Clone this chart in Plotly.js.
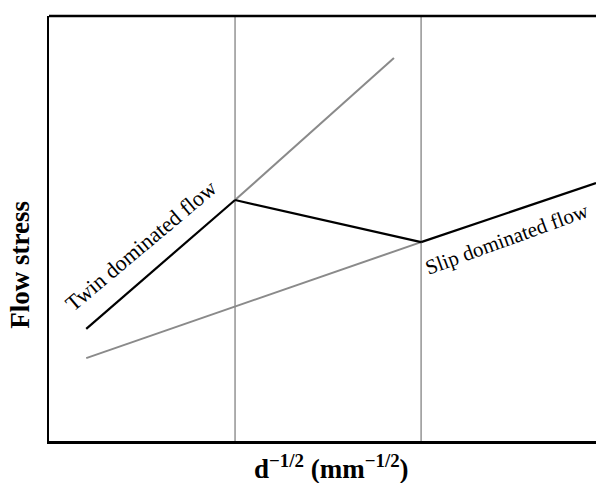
<!DOCTYPE html>
<html>
<head>
<meta charset="utf-8">
<script src="https://cdn.plot.ly/plotly-3.0.1.min.js"></script>
<style>html,body{margin:0;padding:0;background:#fff;}#chart{width:596px;height:483px;}</style>
</head>
<body>
<div id="chart"></div>
<script>
// Schematic data (arbitrary units): x = d^-1/2, y = flow stress
const twinX = [1, 5];
const twinY = [2.64, 5.67];
const transitionX = [5, 10];
const transitionY = [5.67, 4.68];
const slipX = [10, 14.7];
const slipY = [4.68, 6.07];
const slipExtX = [1, 10];
const slipExtY = [1.95, 4.68];
const twinExtX = [5, 9.27];
const twinExtY = [5.67, 9.01];
const boundaryX = [5, 10];
const labels = ['Twin dominated flow', 'Slip dominated flow'];
const xTitle = '<b>d<sup>−1/2</sup> (mm<sup>−1/2</sup>)</b>';
const yTitle = '<b>Flow stress</b>';

const black = '#000000';
const gray = '#8a8a8a';
const serif = 'Liberation Serif, Times New Roman, serif';

const traces = [
  {x: slipExtX, y: slipExtY, mode: 'lines', line: {color: gray, width: 2}, name: 'Slip extrapolated'},
  {x: twinExtX, y: twinExtY, mode: 'lines', line: {color: gray, width: 2}, name: 'Twin extrapolated'},
  {x: twinX, y: twinY, mode: 'lines', line: {color: black, width: 2.2}, name: 'Twin'},
  {x: transitionX, y: transitionY, mode: 'lines', line: {color: black, width: 2.2}, name: 'Transition'},
  {x: slipX, y: slipY, mode: 'lines', line: {color: black, width: 2.2}, name: 'Slip'}
];

const shapes = boundaryX.map(v => ({
  type: 'line', xref: 'x', yref: 'paper', x0: v, x1: v, y0: 0, y1: 1,
  line: {color: '#9a9a9a', width: 1.6}, layer: 'below'
}));
shapes.push({type: 'line', xref: 'paper', yref: 'paper', x0: 0, x1: 1.01, y0: 1, y1: 1,
  line: {color: black, width: 2.5}});

const layout = {
  width: 596, height: 483,
  margin: {l: 49, r: 0, t: 16, b: 42},
  paper_bgcolor: '#ffffff', plot_bgcolor: '#ffffff',
  showlegend: false,
  xaxis: {range: [0, 14.7], showline: true, linecolor: black, linewidth: 2.5,
    showgrid: false, zeroline: false, showticklabels: false, ticks: ''},
  yaxis: {range: [0, 10], showline: true, linecolor: black, linewidth: 2.5,
    showgrid: false, zeroline: false, showticklabels: false, ticks: ''},
  shapes: shapes,
  annotations: [
    {x: 2.47, y: 4.61, xref: 'x', yref: 'y', text: labels[0], showarrow: false,
      xanchor: 'center', yanchor: 'middle',
      textangle: -40, font: {family: serif, size: 22, color: black}},
    {x: 12.3, y: 4.75, xref: 'x', yref: 'y', text: labels[1], showarrow: false,
      xanchor: 'center', yanchor: 'middle',
      textangle: -20, font: {family: serif, size: 21, color: black}},
    {x: 0.517, y: -0.061, xref: 'paper', yref: 'paper', text: xTitle, showarrow: false,
      xanchor: 'center', yanchor: 'middle',
      font: {family: serif, size: 27, color: black}},
    {x: -0.053, y: 0.415, xref: 'paper', yref: 'paper', text: yTitle, showarrow: false,
      xanchor: 'center', yanchor: 'middle',
      textangle: -90, font: {family: serif, size: 27, color: black}}
  ]
};

Plotly.newPlot('chart', traces, layout, {displayModeBar: false, staticPlot: true});
</script>
</body>
</html>
